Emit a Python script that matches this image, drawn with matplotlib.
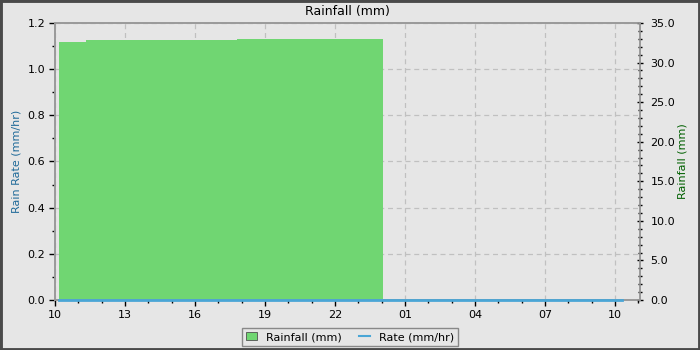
import matplotlib
matplotlib.use("Agg")
import matplotlib.pyplot as plt
import matplotlib.dates as mdates
import matplotlib.ticker as mticker
import pandas as pd
from matplotlib.lines import Line2D
from matplotlib.patches import Patch, Rectangle

# cumulative rainfall (mm), step values
rain_times = pd.to_datetime([
    "2024-05-10 10:10", "2024-05-10 11:20", "2024-05-10 17:48",
    "2024-05-10 23:59", "2024-05-11 00:02",
])
rain_mm = [32.6, 32.85, 33.0, 33.0, 0.0]

# rain rate (mm/hr)
rate_times = pd.to_datetime(["2024-05-10 10:10", "2024-05-11 10:17"])
rate_mmhr = [0.0, 0.0]

x_start = pd.Timestamp("2024-05-10 10:00")
x_end = pd.Timestamp("2024-05-11 11:04")

BG = "#e6e6e6"
GREEN = "#70d672"
BLUE = "#4aa6d6"

fig = plt.figure(figsize=(7, 3.5), dpi=100, facecolor=BG)
fig.patches.append(Rectangle((0, 0), 1, 1, transform=fig.transFigure,
                             fill=False, edgecolor="#4a4a4a", linewidth=3.5))
ax = fig.add_axes([0.0786, 0.1429, 0.8357, 0.7914], facecolor=BG)
ax2 = ax.twinx()
ax2.patch.set_visible(False)

# grid lives on the lower axes so the fill covers it
ax.grid(True, which="major", color="#c0c0c0", linestyle=(0, (4, 3)), linewidth=0.9)

ax2.fill_between(rain_times, rain_mm, 0, step="post", color=GREEN, linewidth=0)
ax2.plot(rate_times, rate_mmhr, color=BLUE, linewidth=2, clip_on=False,
         transform=ax.transData, zorder=4)

ax.set_xlim(x_start, x_end)
ax.set_ylim(0, 1.2)
ax2.set_ylim(0, 35)

ax.xaxis.set_major_locator(mdates.HourLocator(byhour=range(1, 24, 3)))
ax.xaxis.set_minor_locator(mdates.HourLocator())
ax.xaxis.set_major_formatter(mdates.DateFormatter("%H"))
ax.yaxis.set_major_locator(mticker.MultipleLocator(0.2))
ax.yaxis.set_minor_locator(mticker.MultipleLocator(0.1))
ax.yaxis.set_major_formatter(mticker.FormatStrFormatter("%.1f"))
ax2.yaxis.set_major_locator(mticker.MultipleLocator(5))
ax2.yaxis.set_minor_locator(mticker.MultipleLocator(1))
ax2.yaxis.set_major_formatter(mticker.FormatStrFormatter("%.1f"))

for a in (ax, ax2):
    for s in a.spines.values():
        s.set_color("#999999")
        s.set_linewidth(1.2)
ax.tick_params(which="major", length=4, width=1, labelsize=8, colors="black", pad=3)
ax.tick_params(which="minor", length=2.2, width=1)
ax2.tick_params(which="major", direction="inout", length=5, width=1, labelsize=8, pad=5)
ax2.tick_params(which="minor", direction="inout", length=3, width=1)

ax.set_title("Rainfall (mm)", fontsize=9, pad=6)
ax.set_ylabel("Rain Rate (mm/hr)", color="#1f6a99", fontsize=8, labelpad=4)
ax2.set_ylabel("Rainfall (mm)", color="#006000", fontsize=8, labelpad=2)

handles = [
    Patch(facecolor=GREEN, edgecolor="#505050", linewidth=0.6),
    Line2D([], [], color=BLUE, linewidth=1.5),
]
leg = fig.legend(handles, ["Rainfall (mm)", "Rate (mm/hr)"], loc="center",
                 bbox_to_anchor=(0.5, 0.037), ncol=2, fontsize=8, frameon=True,
                 fancybox=False, handlelength=1.0, handleheight=0.7,
                 borderpad=0.4, columnspacing=1.5, handletextpad=0.8)
leg.get_frame().set_facecolor(BG)
leg.get_frame().set_edgecolor("#888888")
leg.get_frame().set_alpha(1)

fig.savefig("out.png", dpi=100, facecolor=BG)
